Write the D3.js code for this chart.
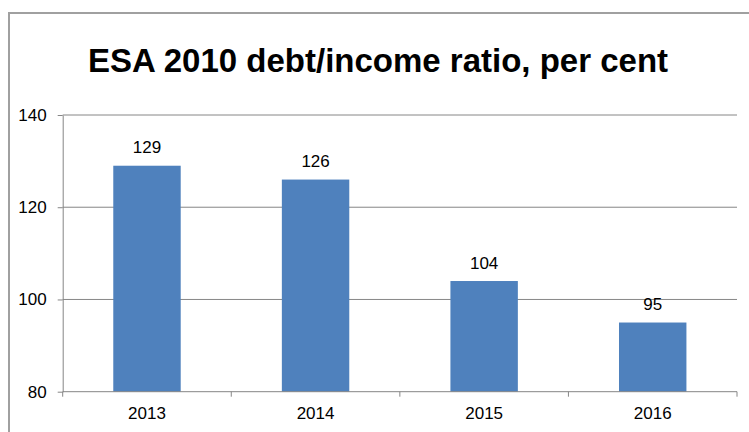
<!DOCTYPE html>
<html>
<head>
<meta charset="utf-8">
<script src="https://cdn.jsdelivr.net/npm/d3@7/dist/d3.min.js"></script>
<style>
  html, body { margin: 0; padding: 0; background: #fff; }
  svg { display: block; font-family: "Liberation Sans", Arial, sans-serif; }
</style>
</head>
<body>
<svg id="chart" width="749" height="432"></svg>
<script>
// Debt-to-income ratio by year (ESA 2010 basis)
const years = ["2013", "2014", "2015", "2016"];
const ratios = [129, 126, 104, 95];
const yTicks = [80, 100, 120, 140];
const chartTitle = "ESA 2010 debt/income ratio, per cent";

const svg = d3.select("#chart");
const W = 749, H = 432;
const plot = { left: 62.7, right: 737, top: 115, bottom: 391.7 };
const labelSize = 17;

// Outer chart frame (runs past the right and bottom edges)
svg.append("rect")
  .attr("x", 9).attr("y", 13)
  .attr("width", W + 20).attr("height", H + 20)
  .attr("fill", "#fff")
  .attr("stroke", "#a0a0a0")
  .attr("stroke-width", 2);

svg.append("text")
  .attr("x", 378).attr("y", 72)
  .attr("text-anchor", "middle")
  .attr("font-size", 33)
  .attr("font-weight", "bold")
  .attr("fill", "#000")
  .text(chartTitle);

const x = d3.scaleBand()
  .domain(years)
  .range([plot.left, plot.right])
  .paddingInner(0.6)
  .paddingOuter(0.3);

const y = d3.scaleLinear()
  .domain([80, 140])
  .range([plot.bottom, plot.top]);

const axisColor = "#868686";

// Horizontal gridlines
svg.append("g")
  .selectAll("line")
  .data(yTicks.filter(t => t > 80))
  .join("line")
  .attr("x1", plot.left).attr("x2", plot.right)
  .attr("y1", d => y(d)).attr("y2", d => y(d))
  .attr("stroke", axisColor)
  .attr("stroke-width", 1);

// Bars
svg.append("g")
  .selectAll("rect")
  .data(years.map((yr, i) => ({ yr, v: ratios[i] })))
  .join("rect")
  .attr("x", d => x(d.yr))
  .attr("width", x.bandwidth())
  .attr("y", d => y(d.v))
  .attr("height", d => y(80) - y(d.v))
  .attr("fill", "#4f81bd");

// Value labels
svg.append("g")
  .selectAll("text")
  .data(years.map((yr, i) => ({ yr, v: ratios[i] })))
  .join("text")
  .attr("x", d => x(d.yr) + x.bandwidth() / 2)
  .attr("y", d => y(d.v) - 12.5)
  .attr("text-anchor", "middle")
  .attr("font-size", labelSize)
  .attr("fill", "#000")
  .text(d => d3.format("d")(d.v));

// Y axis
const yAxis = svg.append("g")
  .attr("transform", `translate(${plot.left},0)`)
  .call(d3.axisLeft(y).tickValues(yTicks).tickSize(5).tickPadding(11).tickSizeOuter(0));
yAxis.select(".domain").attr("stroke", axisColor);
yAxis.selectAll(".tick line").attr("stroke", axisColor);
yAxis.selectAll(".tick text")
  .attr("font-size", labelSize)
  .attr("font-family", "'Liberation Sans', Arial, sans-serif")
  .attr("fill", "#000");

// X axis: line, boundary ticks between categories, centred labels
const xg = svg.append("g").attr("transform", `translate(0,${plot.bottom})`);
xg.append("line")
  .attr("x1", plot.left).attr("x2", plot.right)
  .attr("stroke", axisColor);
const step = x.step();
const bounds = d3.range(years.length + 1).map(i => plot.left + i * step);
xg.selectAll("line.tk")
  .data(bounds)
  .join("line")
  .attr("class", "tk")
  .attr("x1", d => d).attr("x2", d => d)
  .attr("y1", 0).attr("y2", 5)
  .attr("stroke", axisColor);
xg.selectAll("text")
  .data(years)
  .join("text")
  .attr("x", d => x(d) + x.bandwidth() / 2)
  .attr("y", 27.5)
  .attr("text-anchor", "middle")
  .attr("font-size", labelSize)
  .attr("fill", "#000")
  .text(d => d);
</script>
</body>
</html>
